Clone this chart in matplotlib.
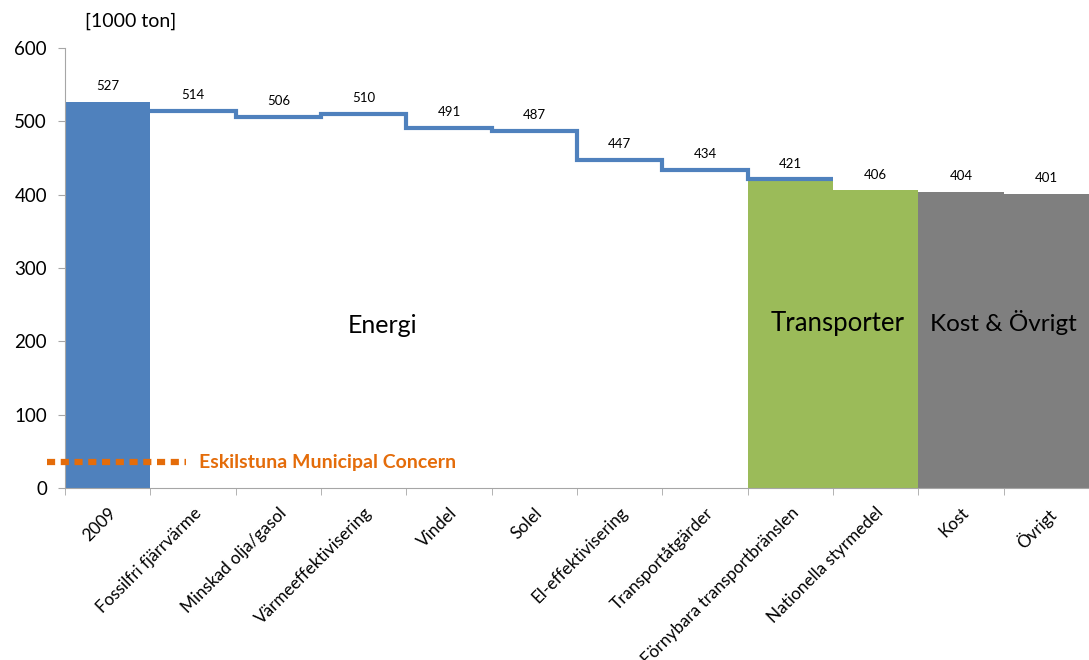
import numpy as np
import matplotlib
matplotlib.use("Agg")
import matplotlib.pyplot as plt

plt.rcParams['font.family'] = ['Lato', 'DejaVu Sans']

# kategorier och utsläpp (1000 ton CO2) efter varje åtgärd
categories = ['2009', 'Fossilfri fjärrvärme', 'Minskad olja/gasol', 'Värmeeffektivisering',
              'Vindel', 'Solel', 'El-effektivisering', 'Transportåtgärder',
              'Förnybara transportbränslen', 'Nationella styrmedel', 'Kost', 'Övrigt']
values = [527, 514, 506, 510, 491, 487, 447, 434, 421, 406, 404, 401]
groups = ['base', 'energi', 'energi', 'energi', 'energi', 'energi', 'energi', 'energi',
          'transport', 'transport', 'ovrigt', 'ovrigt']
concern_level = 35

colors = {'base': '#4F81BD', 'energi': 'white', 'transport': '#9BBB59', 'ovrigt': '#7F7F7F'}
blue = '#4F81BD'
orange = '#E46C0A'
axis_grey = '#A6A6A6'

fig = plt.figure(figsize=(10.89, 6.60), dpi=100)
ax = fig.add_axes([0.0597, 0.2606, 0.9403, 0.6667])

x = np.arange(len(categories))
ax.bar(x, values, width=1.0, color=[colors[g] for g in groups], linewidth=0, zorder=2)

# trappsteg för energiåtgärderna (inkl. första transportstapeln)
ax.stairs(values[1:9], np.arange(0.5, 9.5, 1.0), baseline=None, color=blue, lw=3.0, zorder=3)

for xi, v in zip(x, values):
    ax.annotate(str(v), (xi, v), xytext=(0, 7), textcoords='offset points',
                ha='center', va='bottom', fontsize=9.5)

ax.text(3.22, 222, 'Energi', fontsize=18, ha='center', va='center')
ax.text(8.55, 224, 'Transporter', fontsize=18.5, ha='center', va='center')
ax.text(10.5, 226, 'Kost & Övrigt', fontsize=17.5, ha='center', va='center')

# nivå för Eskilstuna kommunkoncern
ax.plot([-0.71, 0.92], [concern_level, concern_level], color=orange, lw=4.5,
        dashes=(1.3, 0.9), clip_on=False, zorder=4)
ax.text(1.07, concern_level, 'Eskilstuna Municipal Concern', color=orange,
        fontsize=14, fontweight='bold', ha='left', va='center')

ax.text(0.02, 1.06, '[1000 ton]', transform=ax.transAxes, fontsize=14, ha='left', va='center')

ax.set_xlim(-0.5, 11.37)
ax.set_ylim(0, 600)
ax.set_yticks(range(0, 601, 100))
ax.tick_params(axis='y', labelsize=13.5, length=5, color=axis_grey, pad=8)

ax.set_xticks(x)
ax.set_xticklabels(categories, rotation=45, ha='right', va='top',
                   rotation_mode='anchor', fontsize=12.3)
ax.set_xticks(np.arange(-0.5, 12, 1.0), minor=True)
ax.tick_params(axis='x', which='major', length=0, pad=12)
ax.tick_params(axis='x', which='minor', length=5, color=axis_grey)

for side in ['top', 'right']:
    ax.spines[side].set_visible(False)
for side in ['left', 'bottom']:
    ax.spines[side].set_color(axis_grey)

fig.savefig('out.png', dpi=100)
